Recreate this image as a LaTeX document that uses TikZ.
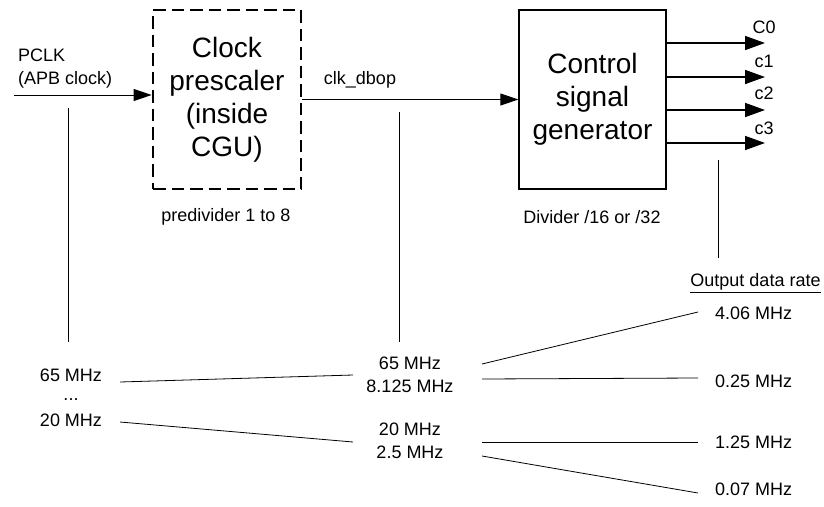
\documentclass[tikz,border=0pt]{standalone}
\usepackage{fontspec}
\setmainfont{Liberation Sans}
\usetikzlibrary{arrows.meta,calc}
\begin{document}
\begin{tikzpicture}[x=1pt,y=-1pt,
  small/.style={font=\fontsize{18}{23}\selectfont, inner sep=0pt, align=center},
  big/.style={font=\fontsize{28}{33}\selectfont, align=center, inner sep=0pt},
  thin/.style={line width=0.8pt},
  inarrow/.style={line width=0.9pt, -{Triangle[length=18pt,width=12pt]}},
  outarrow/.style={line width=1.6pt, -{Triangle[length=20pt,width=14pt]}},
]
\useasboundingbox (0,0) rectangle (824,506);

% blocks
\node[big, draw, line width=2.7pt, dash pattern=on 12.5pt off 6pt,
      minimum width=148pt, minimum height=179pt] (pre) at (227,99.5)
      {Clock\\prescaler\\(inside\\CGU)};
\node[big, draw, line width=1.3pt, minimum width=147pt, minimum height=179pt]
      (csg) at (592.5,99.5) {Control\\signal\\generator};

\node[small] (prelbl) at (226,217) {predivider 1 to 8};
\node[small] (csglbl) at (592,217) {Divider /16 or /32};

% input
\coordinate (pin) at (14,95);
\node[small, anchor=west, align=left] (pclk) at (18,68.5) {PCLK\\(APB clock)};
\draw[inarrow] (pin) -- (pin -| pre.west);
\node[small] (clkd) at (360,80) {clk\_dbop};
\draw[inarrow] (pre.east) -- (pre.east -| csg.west);

% outputs
\coordinate (o0) at (765,43);
\coordinate (o1) at (765,77);
\coordinate (o2) at (765,110);
\coordinate (o3) at (765,143);
\draw[outarrow] (o0 -| csg.east) -- (o0);
\draw[outarrow] (o1 -| csg.east) -- (o1);
\draw[outarrow] (o2 -| csg.east) -- (o2);
\draw[outarrow] (o3 -| csg.east) -- (o3);
\node[small] (c0) at (764,27) {C0};
\node[small] (c1) at (764,61) {c1};
\node[small] (c2) at (764,93) {c2};
\node[small] (c3) at (764,128) {c3};

% frequency nodes
\node[small] (l65) at (71,375) {65 MHz};
\node[small] (ldots) at (71,400) {...};
\node[small] (l20) at (71,420) {20 MHz};
\node[small] (mtop) at (410,374.5) {65 MHz\\8.125 MHz};
\node[small] (mbot) at (410,441) {20 MHz\\2.5 MHz};
\node[small, anchor=west] (r1) at (715,313) {4.06 MHz};
\node[small, anchor=west] (r2) at (715,381) {0.25 MHz};
\node[small, anchor=west] (r3) at (715,442) {1.25 MHz};
\node[small, anchor=west] (r4) at (715,489) {0.07 MHz};
\node[small] (odr) at (755.5,283) {\underline{Output data rate}};

% vertical guide lines
\coordinate (v1t) at (68,108);
\coordinate (v2t) at (399,112);
\coordinate (v3t) at (718,160);
\draw[thin] (v1t) -- (68,342);
\draw[thin] (v2t) -- (399,342);
\draw[thin] (v3t) -- (718,258);

% mapping lines
\draw[thin] (120,382) -- (353,375);
\draw[thin] (120,422) -- (353,442);
\draw[thin] (482,364) -- (698,312);
\draw[thin] (482,379) -- (698,378);
\draw[thin] (482,442) -- (698,442);
\draw[thin] (482,456) -- (698,493);
\end{tikzpicture}
\end{document}
